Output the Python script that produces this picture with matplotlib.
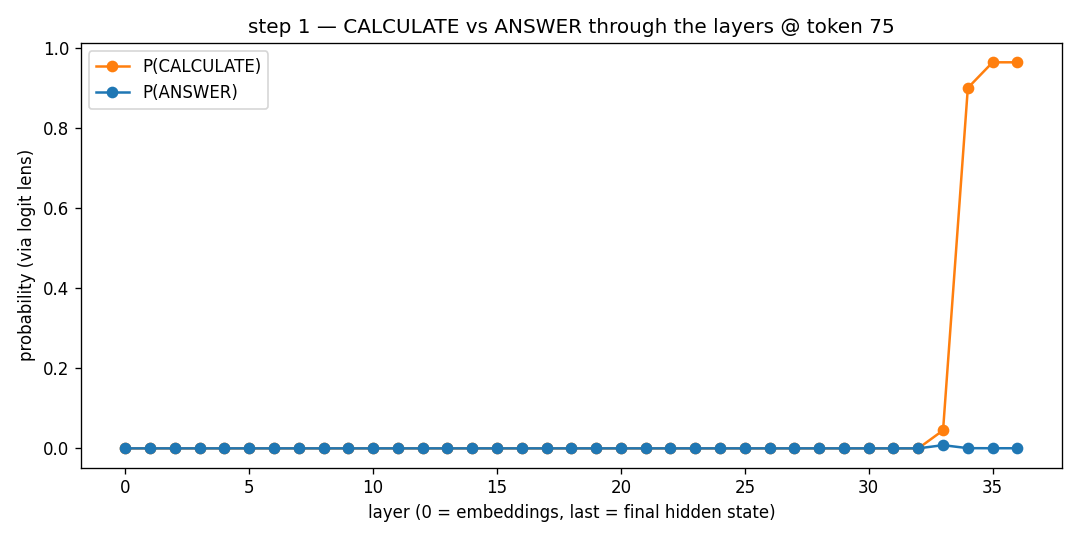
import numpy as np
import matplotlib
matplotlib.use("Agg")
import matplotlib.pyplot as plt

layers = list(range(37))
p_calculate = [0.0] * 33 + [0.045, 0.90, 0.964, 0.964]
p_answer = [0.0] * 33 + [0.008, 0.0005, 0.0003, 0.0003]

fig, ax = plt.subplots(figsize=(9, 4.5), dpi=120)
ax.plot(layers, p_calculate, marker="o", color="tab:orange", label="P(CALCULATE)")
ax.plot(layers, p_answer, marker="o", color="tab:blue", label="P(ANSWER)")
ax.set_xlabel("layer (0 = embeddings, last = final hidden state)")
ax.set_ylabel("probability (via logit lens)")
ax.set_title("step 1 — CALCULATE vs ANSWER through the layers @ token 75")
ax.legend(loc="upper left")
fig.tight_layout()
fig.savefig("out.png")
